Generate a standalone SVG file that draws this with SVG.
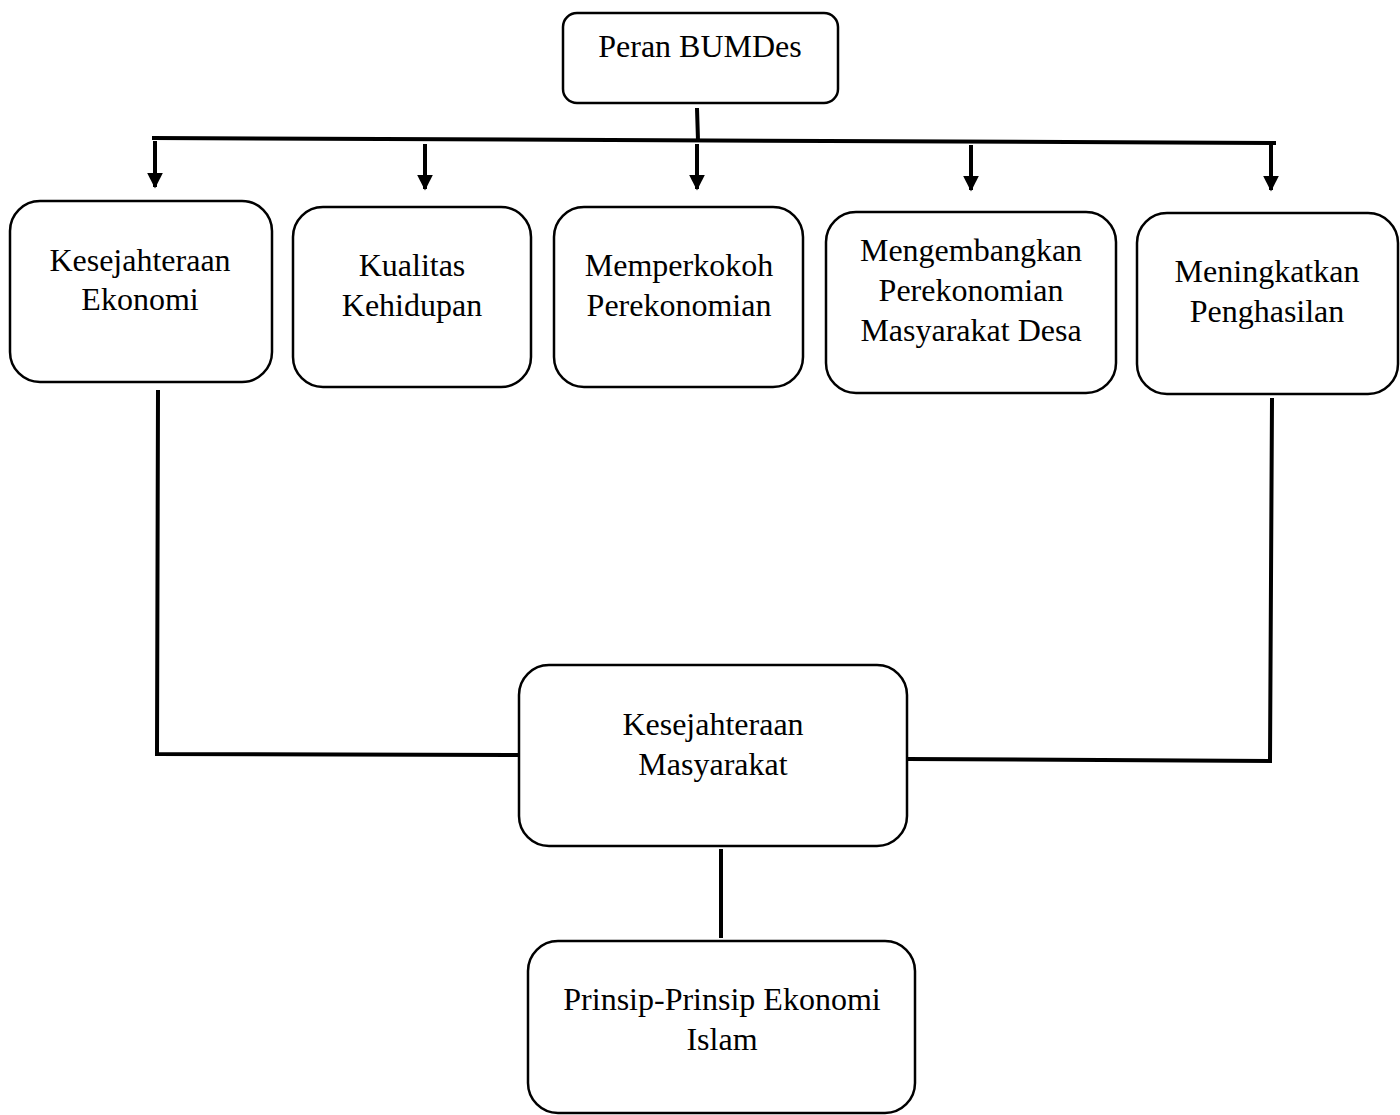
<svg xmlns="http://www.w3.org/2000/svg" width="1400" height="1115" viewBox="0 0 1400 1115">
<defs>
<style>
.box{fill:#fff;stroke:#000;stroke-width:2.5}
.t{font-family:"Liberation Serif","Times New Roman",serif;font-size:32px;fill:#000;text-anchor:middle}
.ln{stroke:#000;stroke-width:4;fill:none}
.ar{stroke:#000;stroke-width:4;fill:none;marker-end:url(#ah)}
</style>
<marker id="ah" viewBox="0 0 10 10" refX="9" refY="5" markerWidth="4" markerHeight="4" orient="auto" markerUnits="strokeWidth">
<path d="M0,0 L10,5 L0,10 Z" fill="#000"/>
</marker>
</defs>
<g id="connectors">
<line class="ln" x1="697" y1="108" x2="698" y2="141"/>
<line class="ln" x1="152" y1="138" x2="1276" y2="143"/>
<line class="ar" x1="155" y1="141" x2="155" y2="187"/>
<line class="ar" x1="425" y1="144" x2="425" y2="189"/>
<line class="ar" x1="697" y1="144" x2="697" y2="189"/>
<line class="ar" x1="971" y1="145" x2="971" y2="190"/>
<line class="ar" x1="1271" y1="145" x2="1271" y2="190"/>
<polyline class="ln" points="158,390 157,754 519,755"/>
<polyline class="ln" points="1272,398 1270,761 907,759"/>
<line class="ln" x1="721" y1="849" x2="721" y2="938"/>
</g>
<g id="n0"><rect class="box" x="563" y="13" width="275" height="90" rx="14"/><text class="t" x="700" y="57">Peran BUMDes</text></g>
<g id="n1"><rect class="box" x="10" y="201" width="262" height="181" rx="30"/><text class="t" x="140" y="271">Kesejahteraan</text><text class="t" x="140" y="310">Ekonomi</text></g>
<g id="n2"><rect class="box" x="293" y="207" width="238" height="180" rx="30"/><text class="t" x="412" y="276">Kualitas</text><text class="t" x="412" y="316">Kehidupan</text></g>
<g id="n3"><rect class="box" x="554" y="207" width="249" height="180" rx="30"/><text class="t" x="679" y="276">Memperkokoh</text><text class="t" x="679" y="316">Perekonomian</text></g>
<g id="n4"><rect class="box" x="826" y="212" width="290" height="181" rx="30"/><text class="t" x="971" y="261">Mengembangkan</text><text class="t" x="971" y="301">Perekonomian</text><text class="t" x="971" y="341">Masyarakat Desa</text></g>
<g id="n5"><rect class="box" x="1137" y="213" width="261" height="181" rx="30"/><text class="t" x="1267" y="282">Meningkatkan</text><text class="t" x="1267" y="322">Penghasilan</text></g>
<g id="n6"><rect class="box" x="519" y="665" width="388" height="181" rx="30"/><text class="t" x="713" y="735">Kesejahteraan</text><text class="t" x="713" y="775">Masyarakat</text></g>
<g id="n7"><rect class="box" x="528" y="941" width="387" height="172" rx="30"/><text class="t" x="722" y="1010">Prinsip-Prinsip Ekonomi</text><text class="t" x="722" y="1050">Islam</text></g>
</svg>
